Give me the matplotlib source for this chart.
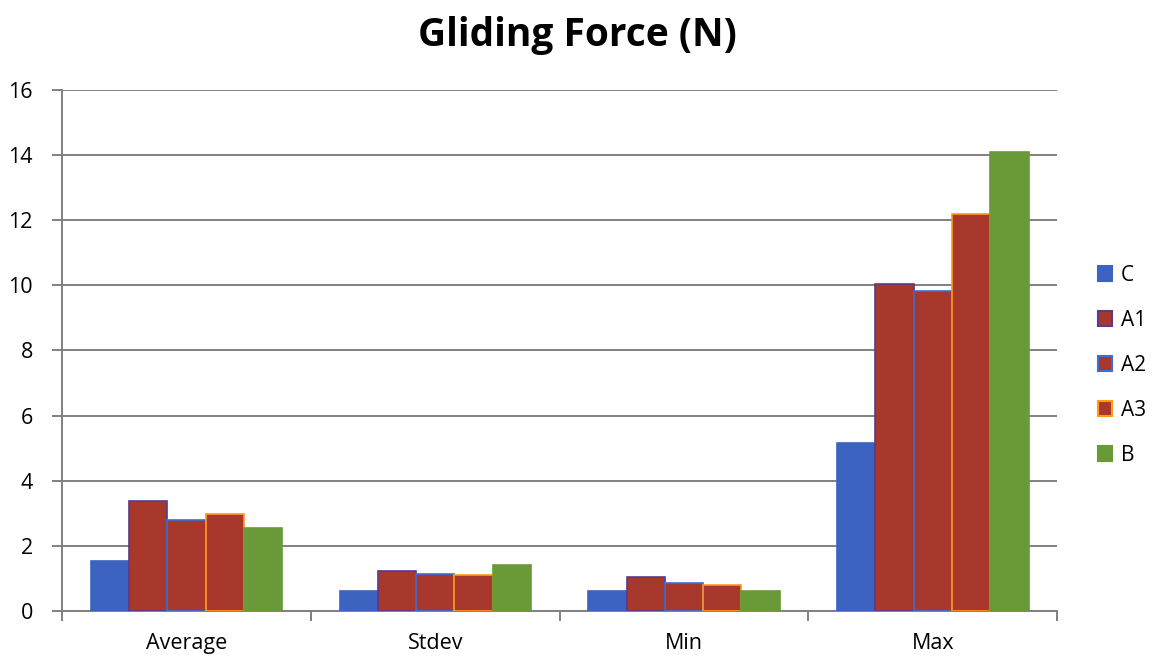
import numpy as np
import matplotlib.pyplot as plt
from matplotlib.patches import Patch

categories = ["Average", "Stdev", "Min", "Max"]
series = ["C", "A1", "A2", "A3", "B"]
c_vals = [1.52, 0.60, 0.60, 5.15]
a1_vals = [3.37, 1.23, 1.04, 10.05]
a2_vals = [2.80, 1.15, 0.85, 9.83]
a3_vals = [2.97, 1.12, 0.80, 12.18]
b_vals = [2.55, 1.42, 0.60, 14.10]

values = [c_vals, a1_vals, a2_vals, a3_vals, b_vals]
fills = ["#3c63c0", "#a8382b", "#a8382b", "#a8382b", "#6a9a37"]
edges = ["#3c63c0", "#5b3a8c", "#3a6fd6", "#ff9a1e", "#6a9a37"]

plt.rcParams["font.family"] = ["Open Sans", "DejaVu Sans"]

fig = plt.figure(figsize=(11.54, 6.56), dpi=100)
ax = fig.add_axes([0.0537, 0.0686, 0.8625, 0.7944])

x = np.arange(len(categories))
width = 1 / 6.5
for i, vals in enumerate(values):
    offs = (i - 2) * width
    ax.bar(x + offs, vals, width, color=fills[i], edgecolor=edges[i],
           linewidth=1.2, zorder=3)

ax.set_xlim(-0.5, 3.5)
ax.set_ylim(0, 16)
ax.set_yticks(range(0, 17, 2))
ax.yaxis.grid(True, color="#808080", linewidth=1.4, zorder=0)
ax.set_xticks(x)
ax.set_xticklabels(categories, fontsize=15.5)
ax.tick_params(axis="x", length=0, pad=16)
ax.set_xticks(np.arange(-0.5, 4, 1), minor=True)
ax.tick_params(axis="x", which="minor", length=7, color="#808080", width=1.4)
ax.tick_params(axis="y", labelsize=15.5, length=7, color="#808080", width=1.4, pad=14)

for s in ["top", "right"]:
    ax.spines[s].set_visible(False)
for s in ["left", "bottom"]:
    ax.spines[s].set_color("#808080")
    ax.spines[s].set_linewidth(1.4)

fig.suptitle("Gliding Force (N)", fontsize=28, fontweight="bold", y=0.975)

handles = [Patch(facecolor=fills[i], edgecolor=edges[i], linewidth=1.5, label=series[i])
           for i in range(len(series))]
fig.legend(handles=handles, loc="upper left", bbox_to_anchor=(0.935, 0.625),
           frameon=False, fontsize=15, labelspacing=1.15,
           handlelength=0.7, handleheight=0.7, handletextpad=0.4)

fig.savefig("out.png", dpi=100)
